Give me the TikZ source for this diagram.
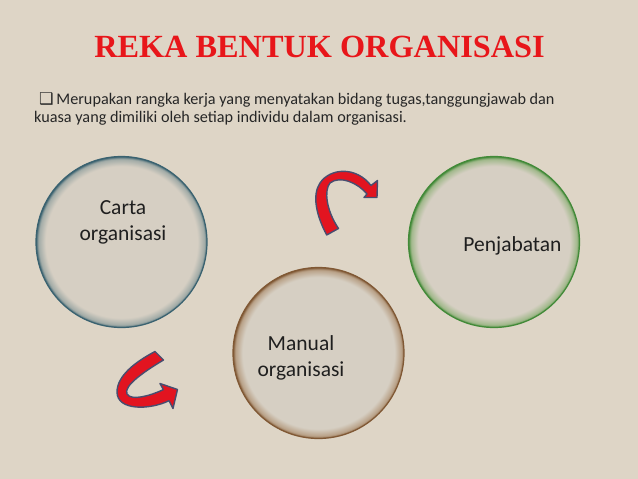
\documentclass[tikz,border=0pt]{standalone}
\usepackage{fontspec}
\setmainfont{Carlito}
\newfontfamily\titlefont{Liberation Serif}
\newfontfamily\boxfont{DejaVu Sans}
\usetikzlibrary{positioning, calc}

\definecolor{canvas}{RGB}{222,213,198}
\definecolor{discin}{RGB}{214,207,195}
\definecolor{titlered}{RGB}{232,22,26}
\definecolor{arrowred}{RGB}{226,20,32}
\definecolor{arrowline}{RGB}{72,78,112}
\definecolor{cartaedge}{RGB}{58,98,112}
\definecolor{cartaglow}{RGB}{160,170,166}
\definecolor{manualedge}{RGB}{128,88,52}
\definecolor{manualglow}{RGB}{184,160,134}
\definecolor{jabatanedge}{RGB}{66,138,56}
\definecolor{jabatanglow}{RGB}{160,184,138}

\pgfdeclareradialshading{cartashade}{\pgfpoint{0bp}{0bp}}{color(0bp)=(discin); color(22.2bp)=(discin); color(24.3bp)=(cartaglow); color(25bp)=(cartaedge); color(50bp)=(cartaedge)}
\pgfdeclareradialshading{manualshade}{\pgfpoint{0bp}{0bp}}{color(0bp)=(discin); color(22.2bp)=(discin); color(24.3bp)=(manualglow); color(25bp)=(manualedge); color(50bp)=(manualedge)}
\pgfdeclareradialshading{jabatanshade}{\pgfpoint{0bp}{0bp}}{color(0bp)=(discin); color(22.2bp)=(discin); color(24.3bp)=(jabatanglow); color(25bp)=(jabatanedge); color(50bp)=(jabatanedge)}

\begin{document}
\begin{tikzpicture}[x=1pt, y=-1pt]
		\tikzstyle{Disc} = [circle, minimum size=171pt, inner sep=0pt, line width=1.2pt]
		\tikzstyle{Label} = [anchor=base, align=center, inner sep=0pt, font=\fontsize{21.5}{26}\selectfont, text=black!88]
		\tikzstyle{curlarrow} = [fill=arrowred, draw=arrowline, line width=1.4pt, line join=round]
		
		\fill [canvas] (0,0) rectangle (638,479);
		\useasboundingbox (0,0) rectangle (638,479);
		
		\node (title) [anchor=base, inner sep=0pt, text=titlered, font=\titlefont\bfseries\fontsize{32.3}{33}\selectfont] at (319.5,57) {REKA BENTUK ORGANISASI};
		\node (intro) [anchor=base west, align=left, inner sep=0pt, font=\fontsize{16.2}{18}\selectfont, text=black!85] at (34,122) {\hspace*{5pt}{\boxfont ❑}\,Merupakan rangka kerja yang menyatakan bidang tugas,tanggungjawab dan\\kuasa yang dimiliki oleh setiap individu dalam organisasi.};
		
		\node (carta) [Disc, draw=cartaedge, shading=cartashade] at (121.5,242) {};
		\node (manual) [Disc, draw=manualedge, shading=manualshade] at (318.5,353) {};
		\node (jabatan) [Disc, draw=jabatanedge, shading=jabatanshade] at (494,242) {};
		
		\node (cartatext) [Label] at (123,240) {Carta\\organisasi};
		\node (manualtext) [Label] at (301,376) {Manual\\organisasi};
		\node (jabatantext) [Label] at (512.5,251) {Penjabatan};
		
		% curved arrows
		\draw [curlarrow] (326.7,235) .. controls (316,215) and (312,195) .. (320,183) .. controls (330,168) and (356,166) .. (371,185.5) -- (377.5,180.5) -- (377,197.5) -- (364,197.5) -- (367,194) .. controls (358,183) and (340,175) .. (330,183) .. controls (324,190) and (326,210) .. (338.5,228.5) -- cycle;
		\draw [curlarrow] (155,351.5) .. controls (135,362) and (117,376) .. (117,392) .. controls (117,411) and (150,410) .. (169,400.7) -- (173,408.5) -- (177.5,389.5) -- (160,383.5) -- (163.3,389.6) .. controls (150,396) and (131,401) .. (127,394) .. controls (123,386) and (145,371) .. (163.5,360) -- cycle;
\end{tikzpicture}
\end{document}
